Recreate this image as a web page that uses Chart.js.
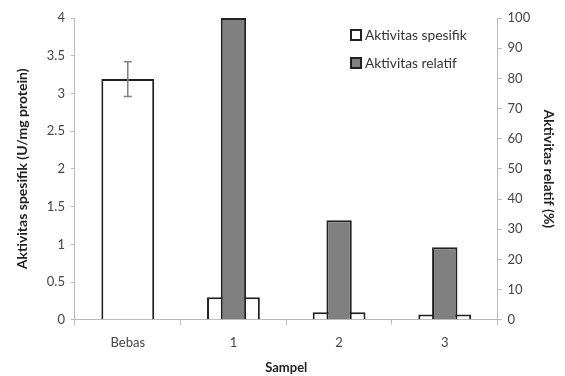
<!DOCTYPE html>
<html>
<head>
<meta charset="utf-8">
<script src="https://cdn.jsdelivr.net/npm/chart.js@4/dist/chart.umd.min.js"></script>
<style>
  body { margin: 0; background: #fff; }
  #wrap { position: relative; width: 565px; height: 376px; }
  #legend { position: absolute; left: 350px; top: 27px; font-family: Lato, "Open Sans", sans-serif; font-size: 13.8px; color: #333; }
  #legend div { height: 28px; line-height: 16px; white-space: nowrap; }
  #legend span.box { display: inline-block; width: 8px; height: 8px; border: 2px solid #222; vertical-align: -1px; margin-right: 3px; }
</style>
</head>
<body>
<div id="wrap">
  <canvas id="myChart" width="565" height="376"></canvas>
  <div id="legend">
    <div><span class="box" style="background:#fff"></span>Aktivitas spesifik</div>
    <div><span class="box" style="background:#808080"></span>Aktivitas relatif</div>
  </div>
</div>
<script>
var categories = ['Bebas', '1', '2', '3'];
var spesifik = [3.19, 0.3, 0.1, 0.07];
var spesifikErr = [0.23, null, null, null];
var relatif = [null, 100, 33, 24];

// simple error bars on the spesifik dataset
var errorBars = {
    id: 'errorBars',
    afterDatasetsDraw: function(chart) {
        var ctx = chart.ctx;
        var meta = chart.getDatasetMeta(0);
        var y = chart.scales.y;
        ctx.save();
        ctx.strokeStyle = '#808080';
        ctx.lineWidth = 1.5;
        spesifikErr.forEach(function(e, i) {
            if (e == null) return;
            var x = meta.data[i].x;
            var top = y.getPixelForValue(spesifik[i] + e);
            var bot = y.getPixelForValue(spesifik[i] - e);
            ctx.beginPath();
            ctx.moveTo(x, top); ctx.lineTo(x, bot);
            ctx.moveTo(x - 4, top); ctx.lineTo(x + 4, top);
            ctx.moveTo(x - 4, bot); ctx.lineTo(x + 4, bot);
            ctx.stroke();
        });
        ctx.restore();
    }
};

var tickFont = { family: 'Lato', size: 13 };
var titleFont = { family: 'Lato', size: 14, weight: 'bold' };

var ctx = document.getElementById('myChart').getContext('2d');
var myChart = new Chart(ctx, {
    type: 'bar',
    data: {
        labels: categories,
        datasets: [{
            label: 'Aktivitas spesifik',
            data: spesifik,
            yAxisID: 'y',
            backgroundColor: '#ffffff',
            borderColor: '#222222',
            borderWidth: 2,
            grouped: false,
            order: 2,
            categoryPercentage: 1,
            barPercentage: 0.5
        },
        {
            label: 'Aktivitas relatif',
            data: relatif,
            yAxisID: 'y1',
            backgroundColor: '#808080',
            borderColor: '#222222',
            borderWidth: 2,
            grouped: false,
            order: 1,
            categoryPercentage: 1,
            barPercentage: 0.24
        }]
    },
    options: {
        responsive: false,
        animation: false,
        layout: { padding: { top: 18, right: 0, left: 10, bottom: 0 } },
        plugins: {
            legend: { display: false },
            tooltip: { enabled: false }
        },
        scales: {
            x: {
                offset: true,
                grid: { display: true, offset: true, drawOnChartArea: false, color: '#bbbbbb', tickLength: 5 },
                border: { color: '#bbbbbb' },
                ticks: { color: '#444', font: tickFont, padding: 10 },
                title: { display: true, text: 'Sampel', color: '#222', font: { family: 'Lato', size: 13, weight: 'bold' }, padding: { top: 0, bottom: 0 } }
            },
            y: {
                position: 'left',
                min: 0,
                max: 4,
                ticks: { stepSize: 0.5, color: '#444', font: tickFont, padding: 6, callback: function(v) { return String(v); } },
                grid: { drawOnChartArea: false, color: '#bbbbbb', tickLength: 4 },
                border: { color: '#bbbbbb' },
                title: { display: true, text: 'Aktivitas spesifik (U/mg protein)', color: '#222', font: titleFont, padding: { bottom: 10 } }
            },
            y1: {
                position: 'right',
                min: 0,
                max: 100,
                ticks: { stepSize: 10, color: '#444', font: tickFont, padding: 6 },
                grid: { drawOnChartArea: false, color: '#bbbbbb', tickLength: 4 },
                border: { color: '#bbbbbb' },
                title: { display: true, text: 'Aktivitas relatif (%)', color: '#222', font: titleFont, padding: { top: 8 } }
            }
        }
    },
    plugins: [errorBars]
});
</script>
</body>
</html>
